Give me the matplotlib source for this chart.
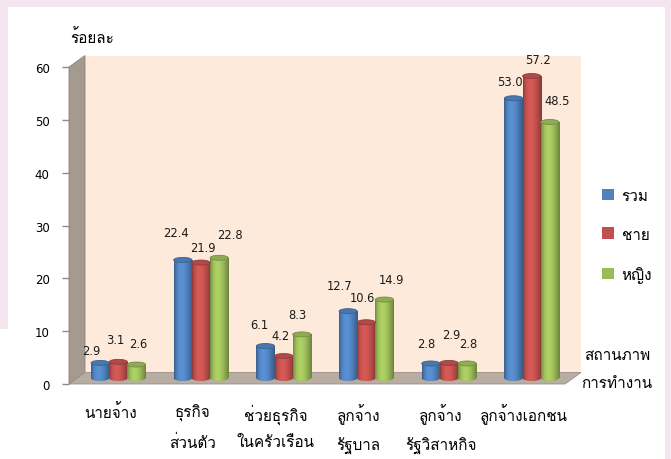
import numpy as np
import matplotlib
matplotlib.use("Agg")
import matplotlib.pyplot as plt
from matplotlib import font_manager
from matplotlib.ft2font import FT2Font
from matplotlib.patches import Polygon, Ellipse, Rectangle, Patch
from matplotlib.colors import to_rgb

# --- data ---
categories = ['นายจ้าง', 'ธุรกิจ\nส่วนตัว', 'ช่วยธุรกิจ\nในครัวเรือน',
              'ลูกจ้าง\nรัฐบาล', 'ลูกจ้าง\nรัฐวิสาหกิจ', 'ลูกจ้างเอกชน']
series_names = ['รวม', 'ชาย', 'หญิง']
total = [2.9, 22.4, 6.1, 12.7, 2.8, 53.0]
male = [3.1, 21.9, 4.2, 10.6, 2.9, 57.2]
female = [2.6, 22.8, 8.3, 14.9, 2.8, 48.5]
y_ticks = [0, 10, 20, 30, 40, 50, 60]

colors = ['#4f81bd', '#c0504d', '#9bbb59']

# label nudges (px) per series, per category, as Excel staggered them
label_nudge = [
    [(-9, 12), (-7, 27), (-6, 22), (-9, 26), (-5, 20), (-4, 17)],
    [(-3, 22), (2, 15), (-3, 21), (-4, 25), (2, 28), (6, 17)],
    [(2, 21), (11, 23), (-4, 20), (7, 20), (1, 20), (7, 22)],
]


def thai_font():
    preferred = ['Tahoma', 'Loma', 'Noto Sans Thai', 'Noto Sans Thai UI', 'Garuda',
                 'Sarabun', 'Umpush', 'Waree', 'Kinnari', 'Norasi']
    found = []
    for path in font_manager.findSystemFonts():
        try:
            ft = FT2Font(path)
            if 0x0E01 in ft.get_charmap():
                found.append(ft.family_name)
                font_manager.fontManager.addfont(path)
        except Exception:
            continue
    for name in preferred:
        if name in found:
            return name
    return found[0] if found else None


thai = thai_font()
families = ([thai] if thai else []) + ['DejaVu Sans']
plt.rcParams['font.family'] = families
num_font = 'DejaVu Sans'

W, H = 671, 460
fig = plt.figure(figsize=(W / 100, H / 100), dpi=100)
fig.patch.set_facecolor('#f3e6ee')
fig.patches.append(Rectangle((8 / W, 0), 657 / W, 452 / H, transform=fig.transFigure,
                             facecolor='white', edgecolor='none', zorder=-5))
fig.patches.append(Rectangle((0, 0), 8 / W, 130 / H, transform=fig.transFigure,
                             facecolor='white', edgecolor='none', zorder=-5))

ax = fig.add_axes([69 / W, 75 / H, 496 / W, 317 / H])
ax.patch.set_alpha(0)

# 3D depth of the chart box, in data units
px_x = 496 / 6
px_y = 317 / 60
ddx = 16 / px_x
ddy = 11.5 / px_y
x0, x1 = -0.5, 5.5

back = Polygon([(x0 + ddx, ddy), (x1 + ddx, ddy), (x1 + ddx, 60 + ddy), (x0 + ddx, 60 + ddy)],
               closed=True, facecolor='#fdeadb', edgecolor='none', clip_on=False, zorder=0)
left = Polygon([(x0, 0), (x0 + ddx, ddy), (x0 + ddx, 60 + ddy), (x0, 60)],
               closed=True, facecolor='#a59a90', edgecolor='#8d8279', lw=0.6, clip_on=False, zorder=1)
floor = Polygon([(x0, 0), (x1, 0), (x1 + ddx, ddy), (x0 + ddx, ddy)],
                closed=True, facecolor='#b8ada2', edgecolor='#9a8f85', lw=0.6, clip_on=False, zorder=1)
for p in (back, left, floor):
    ax.add_patch(p)

# cylinder bars
width = 0.22
cap_h = 5 / px_y
t = np.linspace(0, 1, 64)
shade = 0.70 + 0.42 * np.sin(np.pi * t ** 0.75)

for s, (vals, col) in enumerate(zip([total, male, female], colors)):
    xs = np.arange(len(categories)) + (s - 1) * width + ddx / 2
    bars = ax.bar(xs, vals, width=width, bottom=ddy / 2, color=col, zorder=3)
    rgb = np.array(to_rgb(col))
    grad = np.clip(shade[:, None] * rgb[None, :], 0, 1)[None, :, :]
    for i, (rect, v, xc) in enumerate(zip(bars, vals, xs)):
        top = ddy / 2 + v
        bot = ddy / 2
        bl = Ellipse((xc, bot), width, cap_h, facecolor=col, edgecolor='none', zorder=2.5)
        ax.add_patch(bl)
        for clip in (rect, bl):
            im = ax.imshow(grad, extent=(xc - width / 2, xc + width / 2, bot - cap_h, top),
                           aspect='auto', zorder=clip.get_zorder() + 0.1, interpolation='bilinear')
            im.set_clip_path(clip)
        cap = Ellipse((xc, top), width, cap_h, facecolor=np.clip(rgb * 0.92, 0, 1),
                      edgecolor=np.clip(rgb * 0.75, 0, 1), lw=0.6, zorder=4)
        ax.add_patch(cap)
        ndx, ndy = label_nudge[s][i]
        ax.annotate(f'{v:.1f}', xy=(xc, top), xytext=(ndx * 0.72, ndy * 0.72),
                    textcoords='offset points', ha='center', va='center',
                    fontsize=8.3, family=num_font, color='#1a1a1a', zorder=6)

ax.set_xlim(-0.5, 5.5)
ax.set_ylim(0, 60)

for sp in ax.spines.values():
    sp.set_visible(False)
ax.set_yticks(y_ticks)
ax.set_yticklabels([str(v) for v in y_ticks], family=num_font, fontsize=8.5)
ax.tick_params(axis='y', length=5, width=1, color='#8c8c8c', pad=9)
ax.set_xticks(range(len(categories)))
ax.set_xticklabels(categories, fontsize=11, linespacing=2.0)
ax.tick_params(axis='x', length=0, pad=14)

fig.text(70 / W, 1 - 38 / H, 'ร้อยละ', ha='left', va='center', fontsize=11)
fig.text(617 / W, 1 - 370 / H, 'สถานภาพ\nการทำงาน', ha='center', va='center',
         fontsize=11, linespacing=2.2)

handles = [Patch(facecolor=c, edgecolor='none') for c in colors]
fig.legend(handles, series_names, loc='upper left', bbox_to_anchor=(588 / W, 1 - 176 / H),
           frameon=False, handlelength=0.8, handleheight=0.8, labelspacing=1.6,
           fontsize=11, handletextpad=0.5)

fig.savefig('out.png', dpi=100, facecolor=fig.get_facecolor())
